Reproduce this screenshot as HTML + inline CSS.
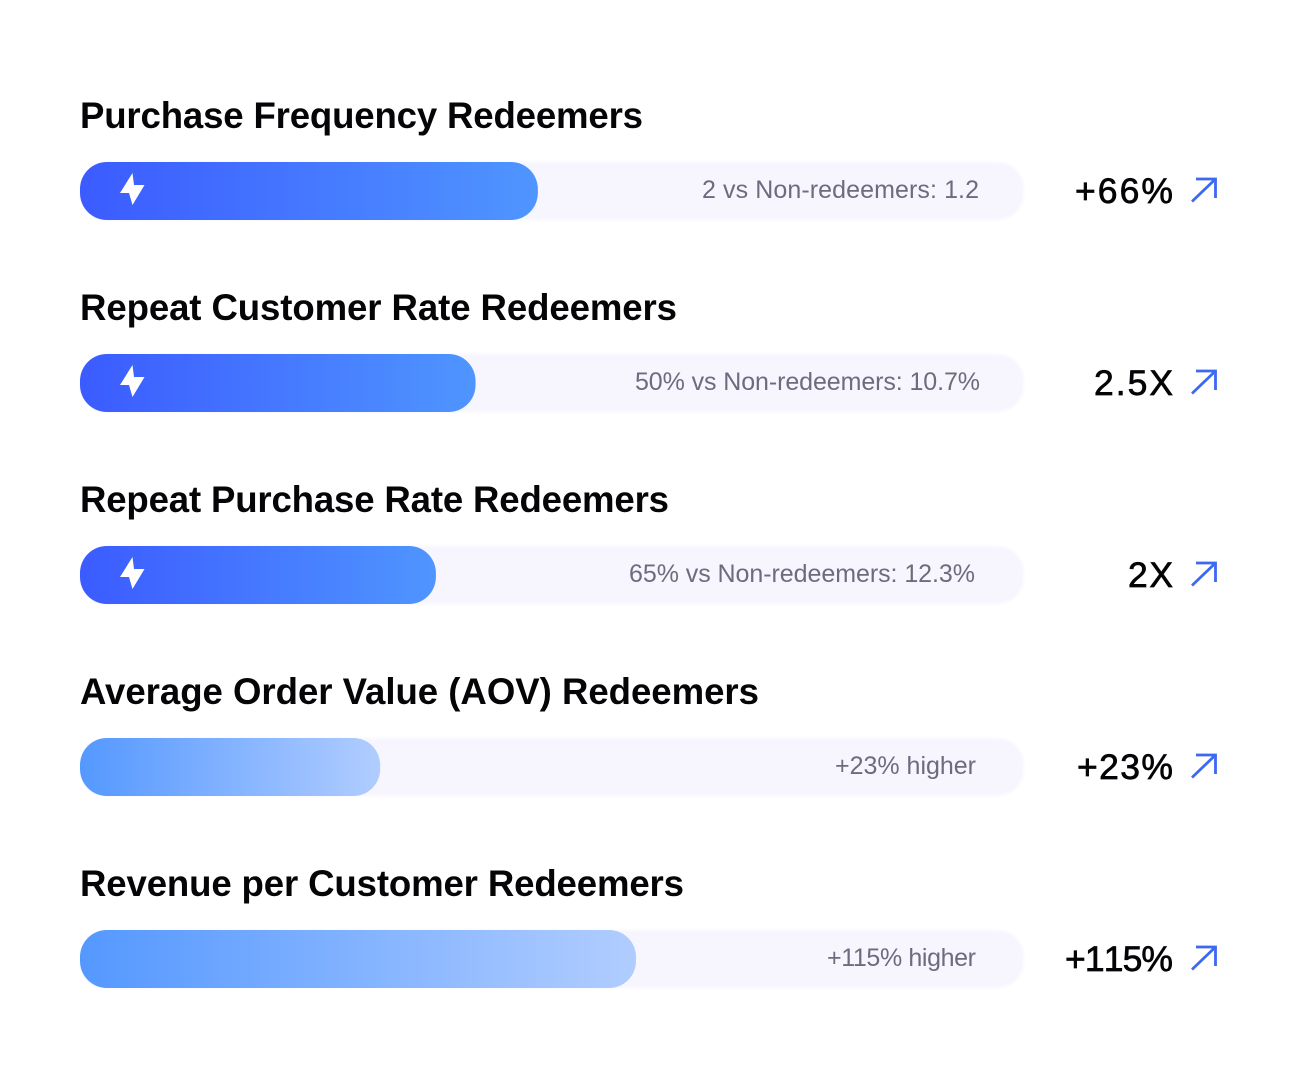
<!DOCTYPE html>
<html lang="en">
<head>
<meta charset="utf-8">
<title>Redeemer metrics</title>
<style>
  html, body { margin: 0; padding: 0; background: #fff; }
  svg { display: block; font-family: "Liberation Sans", sans-serif; }
  .title { font-size: 36.6px; font-weight: 700; fill: #050508; }
  .detail { font-size: 25px; fill: #6c6c7e; }
  .value { font-size: 35.5px; fill: #050508; stroke: #050508; stroke-width: .7px; font-kerning: none; font-feature-settings: "kern" 0; }
  .arrow { fill: none; stroke: #3d68f0; stroke-width: 2.8; }
</style>
</head>
<body>
<svg id="chart" width="1312" height="1072" viewBox="0 0 1312 1072" xmlns="http://www.w3.org/2000/svg">
  <defs>
    <linearGradient id="grad-dark" x1="0" x2="1" y1="0" y2="0">
      <stop offset="0" stop-color="#3b5bff"/><stop offset="1" stop-color="#4f95ff"/>
    </linearGradient>
    <linearGradient id="grad-light" x1="0" x2="1" y1="0" y2="0">
      <stop offset="0" stop-color="#5498ff"/><stop offset="1" stop-color="#b1cdff"/>
    </linearGradient>
    <filter id="soft-edge" x="-2%" y="-10%" width="104%" height="120%">
      <feGaussianBlur stdDeviation="1.2"/>
    </filter>
  </defs>

  <g id="bars"></g>

  <g>
    <text class="title" x="80" y="128" textLength="563">Purchase Frequency Redeemers</text>
    <text class="detail" x="702" y="198" textLength="277">2 vs Non-redeemers: 1.2</text>
    <text class="value" x="1075" y="203" textLength="98">+66%</text>
    <path class="arrow" d="M1192 201.5 L1215.5 179 M1196 179 H1215.5 V198"/>
  </g>
  <g>
    <text class="title" x="80" y="320" textLength="597">Repeat Customer Rate Redeemers</text>
    <text class="detail" x="635" y="390" textLength="345">50% vs Non-redeemers: 10.7%</text>
    <text class="value" x="1094" y="395" textLength="79">2.5X</text>
    <path class="arrow" d="M1192 393.5 L1215.5 371 M1196 371 H1215.5 V390"/>
  </g>
  <g>
    <text class="title" x="80" y="512" textLength="589">Repeat Purchase Rate Redeemers</text>
    <text class="detail" x="629" y="582" textLength="346">65% vs Non-redeemers: 12.3%</text>
    <text class="value" x="1128" y="587" textLength="45">2X</text>
    <path class="arrow" d="M1192 585.5 L1215.5 563 M1196 563 H1215.5 V582"/>
  </g>
  <g>
    <text class="title" x="80" y="704" textLength="679">Average Order Value (AOV) Redeemers</text>
    <text class="detail" x="835" y="774" textLength="141">+23% higher</text>
    <text class="value" x="1077" y="779" textLength="96">+23%</text>
    <path class="arrow" d="M1192 777.5 L1215.5 755 M1196 755 H1215.5 V774"/>
  </g>
  <g>
    <text class="title" x="80" y="896" textLength="604">Revenue per Customer Redeemers</text>
    <text class="detail" x="827" y="966" textLength="149">+115% higher</text>
    <text class="value" x="1065" y="971" textLength="108">+115%</text>
    <path class="arrow" d="M1192 969.5 L1215.5 947 M1196 947 H1215.5 V966"/>
  </g>
</svg>

<script>
  // Bar fill as a percent of the full track.
  const categories = ["purchase-frequency", "repeat-customer-rate", "repeat-purchase-rate", "average-order-value", "revenue-per-customer"];
  const fillPercent = [48.5, 41.9, 37.7, 31.8, 58.9];
  const highlighted = [true, true, true, false, false];

  const NS = "http://www.w3.org/2000/svg";
  const layer = document.getElementById("bars");
  const TRACK_LEFT = 80, TRACK_WIDTH = 944, BAR_H = 58, FIRST_Y = 162, STEP = 192;

  function xLength(v) { return v / 100 * TRACK_WIDTH; }
  function yRow(i) { return FIRST_Y + i * STEP; }

  categories.forEach(function (cat, i) {
    const y = yRow(i);

    const track = document.createElementNS(NS, "rect");
    track.setAttribute("x", TRACK_LEFT);
    track.setAttribute("y", y);
    track.setAttribute("width", xLength(100));
    track.setAttribute("height", BAR_H);
    track.setAttribute("rx", 27);
    track.setAttribute("fill", "#f7f6ff");
    track.setAttribute("filter", "url(#soft-edge)");
    
    
    layer.appendChild(track);

    const fill = document.createElementNS(NS, "rect");
    fill.setAttribute("x", TRACK_LEFT);
    fill.setAttribute("y", y);
    fill.setAttribute("width", xLength(fillPercent[i]));
    fill.setAttribute("height", BAR_H);
    fill.setAttribute("rx", 27);
    fill.setAttribute("fill", highlighted[i] ? "url(#grad-dark)" : "url(#grad-light)");
    
    
    layer.appendChild(fill);

    if (highlighted[i]) {
      const bolt = document.createElementNS(NS, "path");
      bolt.setAttribute("d", "M132.5 0 L120 20 H129 L132.5 32 L144.5 12 H134 Z");
      bolt.setAttribute("transform", "translate(0 " + (y + 11) + ")");
      bolt.setAttribute("fill", "#fff");
      
      
      layer.appendChild(bolt);
    }
  });
</script>
</body>
</html>
